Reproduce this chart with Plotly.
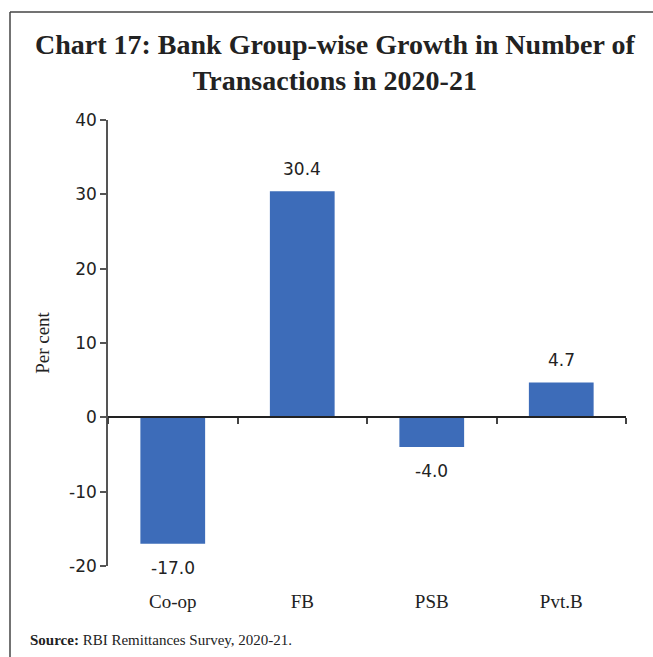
import plotly.graph_objects as go

categories = ["Co-op", "FB", "PSB", "Pvt.B"]
growth = [-17.0, 30.4, -4.0, 4.7]
y_ticks = [-20, -10, 0, 10, 20, 30, 40]
y_tick_text = ["-20", "-10", "0", "10", "20", "30", "40"]

W, H = 653, 657
L, R, T, B = 108, 27, 120, 91
pw, ph = W - L - R, H - T - B

def px_x(x):
    return (x - L) / pw

def px_y(y):
    return (H - B - y) / ph

fig = go.Figure()
fig.add_trace(go.Bar(
    x=categories, y=growth, marker=dict(color="#3d6cb9", line=dict(width=0)),
    width=0.5, hoverinfo="skip", showlegend=False,
))
# invisible trace to carry the boundary ticks on the zero line
fig.add_trace(go.Bar(
    x=categories, y=[0] * len(categories), xaxis="x2", marker=dict(opacity=0),
    hoverinfo="skip", showlegend=False,
))

for c, v in zip(categories, growth):
    fig.add_annotation(
        x=c, y=v, text=f"{v:.1f}", showarrow=False, yanchor="middle",
        yshift=22 if v >= 0 else -24,
        font=dict(family="DejaVu Sans", size=17, color="#222"),
    )

fig.add_annotation(
    xref="paper", yref="paper", x=px_x(335), y=px_y(62), xanchor="center", yanchor="middle",
    text="<b>Chart 17: Bank Group-wise Growth in Number of<br>Transactions in 2020-21</b>",
    showarrow=False, font=dict(family="Liberation Serif", size=28, color="#222"),
)
fig.add_annotation(
    xref="paper", yref="paper", x=px_x(28), y=px_y(640), xanchor="left", yanchor="middle",
    text="<b>Source:</b> RBI Remittances Survey, 2020-21.", showarrow=False,
    font=dict(family="Liberation Serif", size=15, color="#222"),
)

fig.add_shape(type="line", xref="paper", yref="paper",
              x0=px_x(10), x1=px_x(10), y0=px_y(12), y1=px_y(670),
              line=dict(color="#444", width=1.5))
fig.add_shape(type="line", xref="paper", yref="paper",
              x0=px_x(10), x1=px_x(670), y0=px_y(12), y1=px_y(12),
              line=dict(color="#444", width=1.5))

fig.update_layout(
    width=W, height=H, margin=dict(l=L, r=R, t=T, b=B),
    paper_bgcolor="white", plot_bgcolor="white",
    xaxis=dict(
        type="category", categoryarray=categories, showline=False, ticks="",
        showgrid=False, zeroline=False, ticklabelstandoff=22,
        tickfont=dict(family="Liberation Serif", size=19, color="#222"),
    ),
    xaxis2=dict(
        type="category", categoryarray=categories, overlaying="x", matches="x",
        anchor="free", position=(0 - (-20)) / (40 - (-20)), side="bottom",
        showline=True, linecolor="#222", linewidth=1.5, ticks="outside",
        tickson="boundaries", ticklen=6, tickcolor="#444", tickwidth=1.5,
        showticklabels=False, showgrid=False, zeroline=False,
    ),
    yaxis=dict(
        range=[-20, 40], tickvals=y_ticks, ticktext=y_tick_text,
        showgrid=False, zeroline=False,
        showline=True, linecolor="#555", linewidth=1.5, ticks="outside",
        ticklen=6, tickcolor="#555", tickwidth=1.5,
        tickfont=dict(family="DejaVu Sans", size=17, color="#222"),
        title=dict(text="Per cent", standoff=14,
                   font=dict(family="Liberation Serif", size=19, color="#222")),
    ),
    bargap=0.5, barmode="overlay",
)

fig.write_html("out.html")
